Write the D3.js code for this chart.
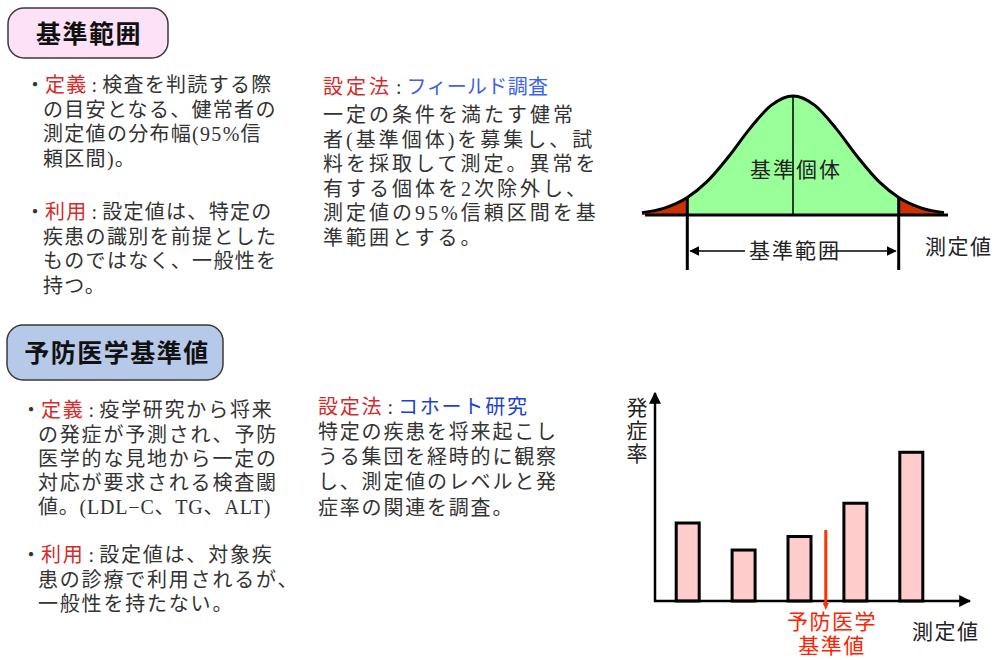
<!DOCTYPE html>
<html>
<head>
<meta charset="utf-8">
<script src="https://cdn.jsdelivr.net/npm/d3@7"></script>
<style>
  body { margin: 0; background: #fff; }
  svg { display: block; font-family: "Liberation Serif", "Noto Sans CJK JP", serif; }
</style>
</head>
<body>
<svg id="chart" width="995" height="660"></svg>
<script>
// bell curve (reference population), z units vs relative height
const bellZ = [-2.8, -2.4, -1.96, -1.6, -1.2, -0.8, -0.4, 0, 0.4, 0.8, 1.2, 1.6, 1.96, 2.4, 2.8];
const bellH = [0.02, 0.056, 0.147, 0.278, 0.487, 0.726, 0.923, 1, 0.923, 0.726, 0.487, 0.278, 0.147, 0.056, 0.02];
const rangeCut = [-1.96, 1.96];

// incidence bars by measured level
const barLevels = [1, 2, 3, 4, 5];
const barRates = [37.5, 24.5, 31, 47, 71.5];
const preventiveCut = 3.47;

// text blocks: each line is a list of [text, colour key, letter-spacing override]
const refDefLines = [
  [['・', 'ink', 0], ['定義', 'red'], [':', 'ink'], ['検査を判読する際', 'ink']],
  [['の目安となる、健常者の', 'ink']],
  [['測定値の分布幅(95%信', 'ink']],
  [['頼区間)。', 'ink']]
];
const refUseLines = [
  [['・', 'ink', 0], ['利用', 'red'], [':', 'ink'], ['設定値は、特定の', 'ink']],
  [['疾患の識別を前提とした', 'ink']],
  [['ものではなく、一般性を', 'ink']],
  [['持つ。', 'ink']]
];
const refMethodLines = [
  [['設定法', 'red'], [':', 'ink'], ['フィールド調査', 'blue', 0.3]],
  [['一定の条件を満たす健常', 'ink']],
  [['者(基準個体)を募集し、試', 'ink']],
  [['料を採取して測定。異常を', 'ink']],
  [['有する個体を2次除外し、', 'ink']],
  [['測定値の95%信頼区間を基', 'ink']],
  [['準範囲とする。', 'ink']]
];
const prevDefLines = [
  [['・', 'ink', 0], ['定義', 'red'], [':', 'ink'], ['疫学研究から将来', 'ink']],
  [['の発症が予測され、予防', 'ink']],
  [['医学的な見地から一定の', 'ink']],
  [['対応が要求される検査閾', 'ink']],
  [['値。(LDL−C、TG、ALT)', 'ink', 0.8]]
];
const prevUseLines = [
  [['・', 'ink', 0], ['利用', 'red'], [':', 'ink'], ['設定値は、対象疾', 'ink']],
  [['患の診療で利用されるが、', 'ink']],
  [['一般性を持たない。', 'ink']]
];
const prevMethodLines = [
  [['設定法', 'red'], [':', 'ink'], ['コホート研究', 'blue2']],
  [['特定の疾患を将来起こし', 'ink']],
  [['うる集団を経時的に観察', 'ink']],
  [['し、測定値のレベルと発', 'ink']],
  [['症率の関連を調査。', 'ink']]
];

const palette = { ink: '#333', red: '#d42a2a', blue: '#3d63e6', blue2: '#1c3fd6' };

const svg = d3.select('#chart');
const defs = svg.append('defs');

function arrowMarker(id, color, size) {
  defs.append('marker')
    .attr('id', id)
    .attr('viewBox', '0 0 10 10')
    .attr('refX', 9).attr('refY', 5)
    .attr('markerUnits', 'userSpaceOnUse')
    .attr('markerWidth', size).attr('markerHeight', size)
    .attr('orient', 'auto-start-reverse')
    .append('path')
    .attr('d', 'M0,0 L10,5 L0,10 Z')
    .attr('fill', color);
}
arrowMarker('arrow', '#000', 12);
arrowMarker('arrowSmall', '#000', 10);

// ---- title boxes ----
function titleBox(x, y, w, h, fill, label, cx, cy, spacing) {
  svg.append('rect')
    .attr('x', x).attr('y', y).attr('width', w).attr('height', h)
    .attr('rx', 16)
    .attr('fill', fill)
    .attr('stroke', '#3a3a3a')
    .attr('stroke-width', 1.5);
  svg.append('text')
    .attr('x', cx).attr('y', cy)
    .attr('text-anchor', 'middle')
    .attr('dominant-baseline', 'central')
    .attr('font-size', 25)
    .attr('font-weight', 'bold')
    .attr('letter-spacing', spacing)
    .attr('fill', '#111')
    .text(label);
}
titleBox(8, 8, 160, 50, '#fde2f7', '基準範囲', 89, 34, 1.5);
titleBox(7, 325, 216, 55, '#b7c9e8', '予防医学基準値', 117, 353, 1.5);

// ---- text blocks (one text element per paragraph, a tspan per line) ----
function textBlock(lines, x0, xFirst, ys, spacing) {
  const t = svg.append('text')
    .attr('font-size', 20)
    .attr('letter-spacing', spacing);
  lines.forEach((line, i) => {
    const row = t.append('tspan')
      .attr('x', i === 0 ? xFirst : x0)
      .attr('y', ys[i])
      .attr('dominant-baseline', 'central');
    line.forEach(seg => {
      const s = row.append('tspan').attr('fill', palette[seg[1]]).text(seg[0]);
      if (seg[2] != null) s.attr('letter-spacing', seg[2]);
      if (seg[0] === ':') s.attr('dx', 4).attr('letter-spacing', 5);
    });
  });
}
textBlock(refDefLines, 43, 25, [85, 109.5, 134, 158.5], 1.3);
textBlock(refUseLines, 43, 25, [212, 236.5, 261, 285.5], 1.3);
textBlock(refMethodLines, 323, 323, [87, 115, 140, 164, 189, 213, 238], 3);
textBlock(prevDefLines, 38, 21, [410, 435, 459, 483, 507], 1.8);
textBlock(prevUseLines, 38, 21, [555, 580, 604], 1.8);
textBlock(prevMethodLines, 318, 318, [407, 432, 457, 482, 508], 1.8);

// ---- bell curve ----
const bx = d3.scaleLinear().domain([-2.8, 2.8]).range([642, 944]);
const by = d3.scaleLinear().domain([0, 1]).range([215, 96]);
const bell = bellZ.map((z, i) => ({ z, h: bellH[i] }));
const bellCurve = d3.curveMonotoneX;

const area = d3.area().x(d => bx(d.z)).y0(by(0)).y1(d => by(d.h)).curve(bellCurve);
const line = d3.line().x(d => bx(d.z)).y(d => by(d.h)).curve(bellCurve);

const clips = [
  { id: 'clipL', x0: 600, x1: bx(rangeCut[0]), fill: '#cc3300' },
  { id: 'clipM', x0: bx(rangeCut[0]), x1: bx(rangeCut[1]), fill: '#99ff99' },
  { id: 'clipR', x0: bx(rangeCut[1]), x1: 990, fill: '#cc3300' }
];
clips.forEach(c => {
  defs.append('clipPath').attr('id', c.id)
    .append('rect').attr('x', c.x0).attr('y', 60).attr('width', c.x1 - c.x0).attr('height', 200);
  svg.append('path')
    .datum(bell)
    .attr('d', area)
    .attr('fill', c.fill)
    .attr('clip-path', `url(#${c.id})`);
});

svg.append('line')
  .attr('x1', bx(0)).attr('x2', bx(0))
  .attr('y1', by(1)).attr('y2', by(0))
  .attr('stroke', '#000').attr('stroke-width', 1.5);

svg.append('path')
  .datum(bell)
  .attr('d', line)
  .attr('fill', 'none')
  .attr('stroke', '#000')
  .attr('stroke-width', 3);

svg.append('line')
  .attr('x1', 645).attr('x2', 948)
  .attr('y1', by(0)).attr('y2', by(0))
  .attr('stroke', '#000').attr('stroke-width', 3);

rangeCut.forEach(z => {
  svg.append('line')
    .attr('x1', bx(z)).attr('x2', bx(z))
    .attr('y1', by(bellH[bellZ.indexOf(z)])).attr('y2', 270)
    .attr('stroke', '#000').attr('stroke-width', 3);
});

svg.append('line')
  .attr('x1', bx(rangeCut[0]) + 3).attr('x2', bx(rangeCut[1]) - 3)
  .attr('y1', 251).attr('y2', 251)
  .attr('stroke', '#000').attr('stroke-width', 1.5)
  .attr('marker-start', 'url(#arrowSmall)')
  .attr('marker-end', 'url(#arrowSmall)');
svg.append('rect')
  .attr('x', 745).attr('y', 240).attr('width', 87).attr('height', 22)
  .attr('fill', '#fff');
svg.append('text')
  .attr('x', 795).attr('y', 251)
  .attr('text-anchor', 'middle').attr('dominant-baseline', 'central')
  .attr('font-size', 21).attr('letter-spacing', 2)
  .attr('fill', '#222')
  .text('基準範囲');

svg.append('text')
  .attr('x', 796).attr('y', 170)
  .attr('text-anchor', 'middle').attr('dominant-baseline', 'central')
  .attr('font-size', 21).attr('letter-spacing', 2)
  .attr('fill', '#222')
  .text('基準個体');

svg.append('text')
  .attr('x', 925).attr('y', 247)
  .attr('dominant-baseline', 'central')
  .attr('font-size', 21).attr('letter-spacing', 1.5)
  .attr('fill', '#222')
  .text('測定値');

// ---- incidence bar chart ----
const x = d3.scaleLinear().domain([1, 5]).range([687.7, 911.3]);
const y = d3.scaleLinear().domain([0, 100]).range([601, 393]);
const barW = 23;
const originX = 655;

svg.append('g')
  .selectAll('rect')
  .data(barLevels.map((l, i) => ({ level: l, rate: barRates[i] })))
  .join('rect')
  .attr('x', d => x(d.level) - barW / 2)
  .attr('y', d => y(d.rate))
  .attr('width', barW)
  .attr('height', d => y(0) - y(d.rate))
  .attr('fill', '#ffcccc')
  .attr('stroke', '#000')
  .attr('stroke-width', 3);

svg.append('line')
  .attr('x1', originX).attr('x2', originX)
  .attr('y1', y(0) + 1).attr('y2', 393)
  .attr('stroke', '#000').attr('stroke-width', 2.5)
  .attr('marker-end', 'url(#arrow)');
svg.append('line')
  .attr('x1', originX - 1).attr('x2', 970)
  .attr('y1', y(0)).attr('y2', y(0))
  .attr('stroke', '#000').attr('stroke-width', 2.5)
  .attr('marker-end', 'url(#arrow)');

svg.append('line')
  .attr('x1', x(preventiveCut)).attr('x2', x(preventiveCut))
  .attr('y1', 530).attr('y2', 604)
  .attr('stroke', '#ff3300').attr('stroke-width', 3);
svg.append('path')
  .attr('d', `M${x(preventiveCut) - 3},603 L${x(preventiveCut) + 3},603 L${x(preventiveCut)},610 Z`)
  .attr('fill', '#ff3300');

svg.append('text')
  .attr('x', 635).attr('y', 397)
  .attr('writing-mode', 'vertical-rl')
  .attr('font-size', 21).attr('letter-spacing', 2)
  .attr('fill', '#222')
  .text('発症率');

svg.append('text')
  .attr('x', 912).attr('y', 632)
  .attr('dominant-baseline', 'central')
  .attr('font-size', 21).attr('letter-spacing', 1.5)
  .attr('fill', '#222')
  .text('測定値');

const cutLabel = svg.append('text')
  .attr('text-anchor', 'middle')
  .attr('font-size', 21).attr('letter-spacing', 1.5)
  .attr('fill', '#ff2200');
['予防医学', '基準値'].forEach((s, i) => {
  cutLabel.append('tspan')
    .attr('x', 832).attr('y', 622 + i * 24)
    .attr('dominant-baseline', 'central')
    .text(s);
});
</script>
</body>
</html>
